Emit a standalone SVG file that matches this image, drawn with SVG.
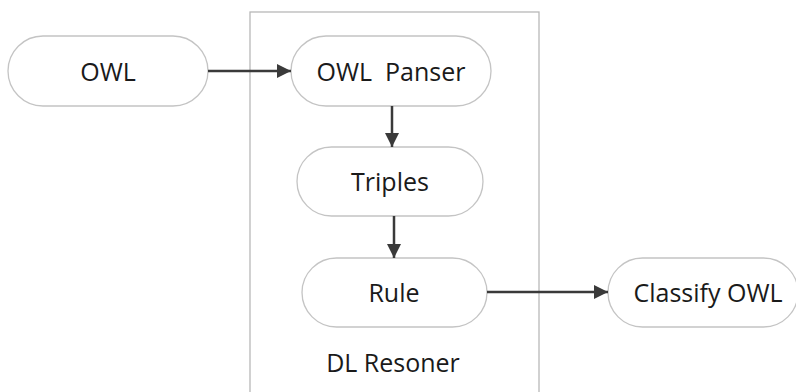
<svg xmlns="http://www.w3.org/2000/svg" width="796" height="392" viewBox="0 0 796 392">
  <style>
    .node { fill: #ffffff; stroke: #c4c4c4; stroke-width: 1.3; }
    .label { font-family: "Open Sans", "Noto Sans", sans-serif; font-size: 25px; fill: #1a1a1a; text-anchor: middle; dominant-baseline: central; white-space: pre; }
    .edge { stroke: #3a3a3a; stroke-width: 2.5; fill: none; marker-end: url(#arrow); }
    .frame { fill: #ffffff; stroke: #b8b8b8; stroke-width: 1.3; }
  </style>
  <defs>
    <marker id="arrow" viewBox="0 0 14 14" refX="14" refY="7" markerWidth="14" markerHeight="14" markerUnits="userSpaceOnUse" orient="auto">
      <path d="M0,0 L14,7 L0,14 Z" fill="#3a3a3a"/>
    </marker>
  </defs>
  <rect width="796" height="392" fill="#ffffff"/>

  <!-- reasoner boundary -->
  <g id="dl-resoner">
    <rect class="frame" x="250" y="12" width="289" height="390"/>
    <text class="label" x="393" y="362">DL Resoner</text>
  </g>

  <g id="owl">
    <rect class="node" x="8" y="36" width="200" height="70" rx="35"/>
    <text class="label" x="108" y="71">OWL</text>
  </g>

  <g id="owl-panser">
    <rect class="node" x="291" y="36" width="200" height="70" rx="35"/>
    <text class="label" x="391" y="71" xml:space="preserve">OWL  Panser</text>
  </g>

  <g id="triples">
    <rect class="node" x="297" y="147" width="186" height="69" rx="34.5"/>
    <text class="label" x="390" y="181">Triples</text>
  </g>

  <g id="rule">
    <rect class="node" x="302" y="258" width="185" height="69" rx="34.5"/>
    <text class="label" x="394" y="292">Rule</text>
  </g>

  <g id="classify-owl">
    <rect class="node" x="608" y="258" width="190" height="69" rx="34.5"/>
    <text class="label" x="708" y="292">Classify OWL</text>
  </g>

  <g id="connectors">
    <line class="edge" x1="208" y1="71" x2="291" y2="71"/>
    <line class="edge" x1="392" y1="106" x2="392" y2="147"/>
    <line class="edge" x1="394" y1="216" x2="394" y2="258"/>
    <line class="edge" x1="487" y1="292" x2="608" y2="292"/>
  </g>
</svg>
